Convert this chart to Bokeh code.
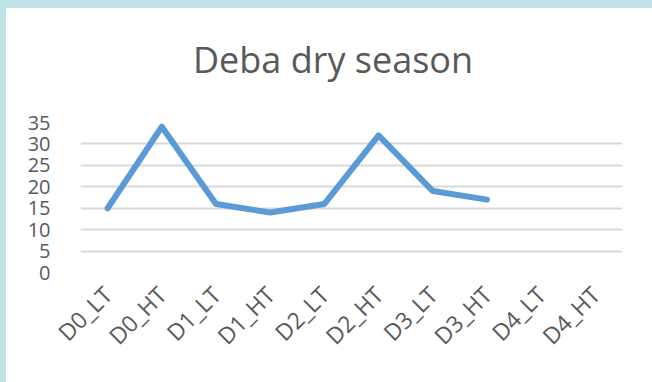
import math
from bokeh.plotting import figure
from bokeh.layouts import column
from bokeh.models import Range1d, FactorRange, FixedTicker, ColumnDataSource, Label
from bokeh.embed import file_html
from bokeh.resources import INLINE

# Sampling stations (low tide / high tide) and measured values
categories = ["D0_LT", "D0_HT", "D1_LT", "D1_HT", "D2_LT",
              "D2_HT", "D3_LT", "D3_HT", "D4_LT", "D4_HT"]
measured_stations = ["D0_LT", "D0_HT", "D1_LT", "D1_HT",
                     "D2_LT", "D2_HT", "D3_LT", "D3_HT"]
measured_values = [15, 34, 16, 14, 16, 32, 19, 17]
y_ticks = [0, 5, 10, 15, 20, 25, 30, 35]
chart_title = "Deba dry season"

FONT = "Open Sans"
TEXT_GRAY = "#595959"
W = 646
HEAD_H, BODY_H = 100, 274

# heading strip: a bare figure holding the title text
head = figure(
    width=W, height=HEAD_H,
    x_range=Range1d(0, W), y_range=Range1d(0, HEAD_H),
    x_axis_type=None, y_axis_type=None,
    output_backend="svg", toolbar_location=None,
    min_border=0,
)
head.styles = {"background": "white"}
head.border_fill_color = "white"
head.background_fill_color = "white"
head.outline_line_color = None
head.grid.grid_line_color = None
head.add_layout(Label(
    x=301, y=HEAD_H - 51,
    text=chart_title, text_align="center", text_baseline="middle",
    text_font=FONT, text_font_size="36px", text_color=TEXT_GRAY,
))

# line chart
p = figure(
    width=W, height=BODY_H,
    x_range=FactorRange(*categories),
    y_range=Range1d(0, 35),
    output_backend="svg",
    toolbar_location=None,
    min_border_left=74, min_border_right=30,
    min_border_top=14, min_border_bottom=110,
)
p.styles = {"background": "white"}
p.border_fill_color = "white"
p.background_fill_color = "white"
p.outline_line_color = None

# y axis: labels only, light horizontal grid
p.yaxis.ticker = FixedTicker(ticks=y_ticks)
p.yaxis.axis_line_color = None
p.yaxis.major_tick_line_color = None
p.yaxis.minor_tick_line_color = None
p.yaxis.major_label_text_font = FONT
p.yaxis.major_label_text_font_size = "20px"
p.yaxis.major_label_text_color = TEXT_GRAY
p.yaxis.major_label_standoff = 24
p.ygrid.grid_line_color = "#d9d9d9"
p.ygrid.grid_line_width = 2

# x axis: rotated station labels
p.xaxis.axis_line_color = None
p.xaxis.major_tick_line_color = None
p.xaxis.minor_tick_line_color = None
p.xaxis.major_label_orientation = math.pi / 4
p.xaxis.major_label_text_font = FONT
p.xaxis.major_label_text_font_size = "23px"
p.xaxis.major_label_text_color = TEXT_GRAY
p.xaxis.major_label_standoff = 12
p.xgrid.grid_line_color = None

src = ColumnDataSource(data=dict(x=measured_stations, y=measured_values))
p.line("x", "y", source=src, line_color="#5b9bd5", line_width=6,
       line_join="round", line_cap="round")

page = column(head, p, spacing=0,
              styles={"background": "#bfe3e6", "padding": "8px 0 0 6px"})

open("out.html", "w").write(file_html(page, INLINE))
